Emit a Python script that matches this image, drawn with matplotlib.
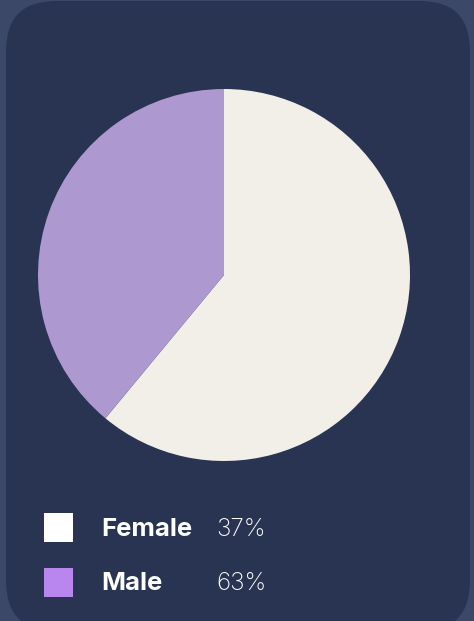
import matplotlib.pyplot as plt
from matplotlib.patches import FancyBboxPatch, Rectangle

# slices as drawn in the pie (cream, purple)
pie_shares = [61, 39]
pie_colors = ["#f2efe9", "#ae98d0"]

# legend entries
categories = ["Female", "Male"]
legend_pcts = ["37%", "63%"]
legend_colors = ["#ffffff", "#b986ee"]

W, H = 474, 621
fig = plt.figure(figsize=(W / 100, H / 100), dpi=100, facecolor="#3c4868")

# background axes in pixel units (y down)
bg = fig.add_axes([0, 0, 1, 1], zorder=0)
bg.set_xlim(0, W)
bg.set_ylim(H, 0)
bg.set_axis_off()
bg.add_patch(FancyBboxPatch((6, 1), 464, 630,
                            boxstyle="round,pad=0,rounding_size=50",
                            facecolor="#283452", edgecolor="none"))

# legend rows
for i, (name, pct, col) in enumerate(zip(categories, legend_pcts, legend_colors)):
    yc = 527.5 + i * 55
    bg.add_patch(Rectangle((44, yc - 14.5), 29, 29, facecolor=col, edgecolor="none"))
    bg.text(101, yc + 1.5, name, color="white", fontsize=18.5, fontweight="bold",
            family="Inter", va="center", ha="left")
    bg.text(216, yc + 1.5, pct, color="white", fontsize=17.5, fontweight="light",
            family="Inter", va="center", ha="left")

# pie, centre (224, 275) px, radius 186 px
cx, cy, r = 224, 275, 186
ax = fig.add_axes([(cx - r) / W, (H - cy - r) / H, 2 * r / W, 2 * r / H], zorder=1)
ax.pie(pie_shares, colors=pie_colors, startangle=90, counterclock=False,
       wedgeprops={"linewidth": 0})
ax.set_xlim(-1, 1)
ax.set_ylim(-1, 1)
ax.set_axis_off()

fig.savefig("out.png", dpi=100, facecolor=fig.get_facecolor())
